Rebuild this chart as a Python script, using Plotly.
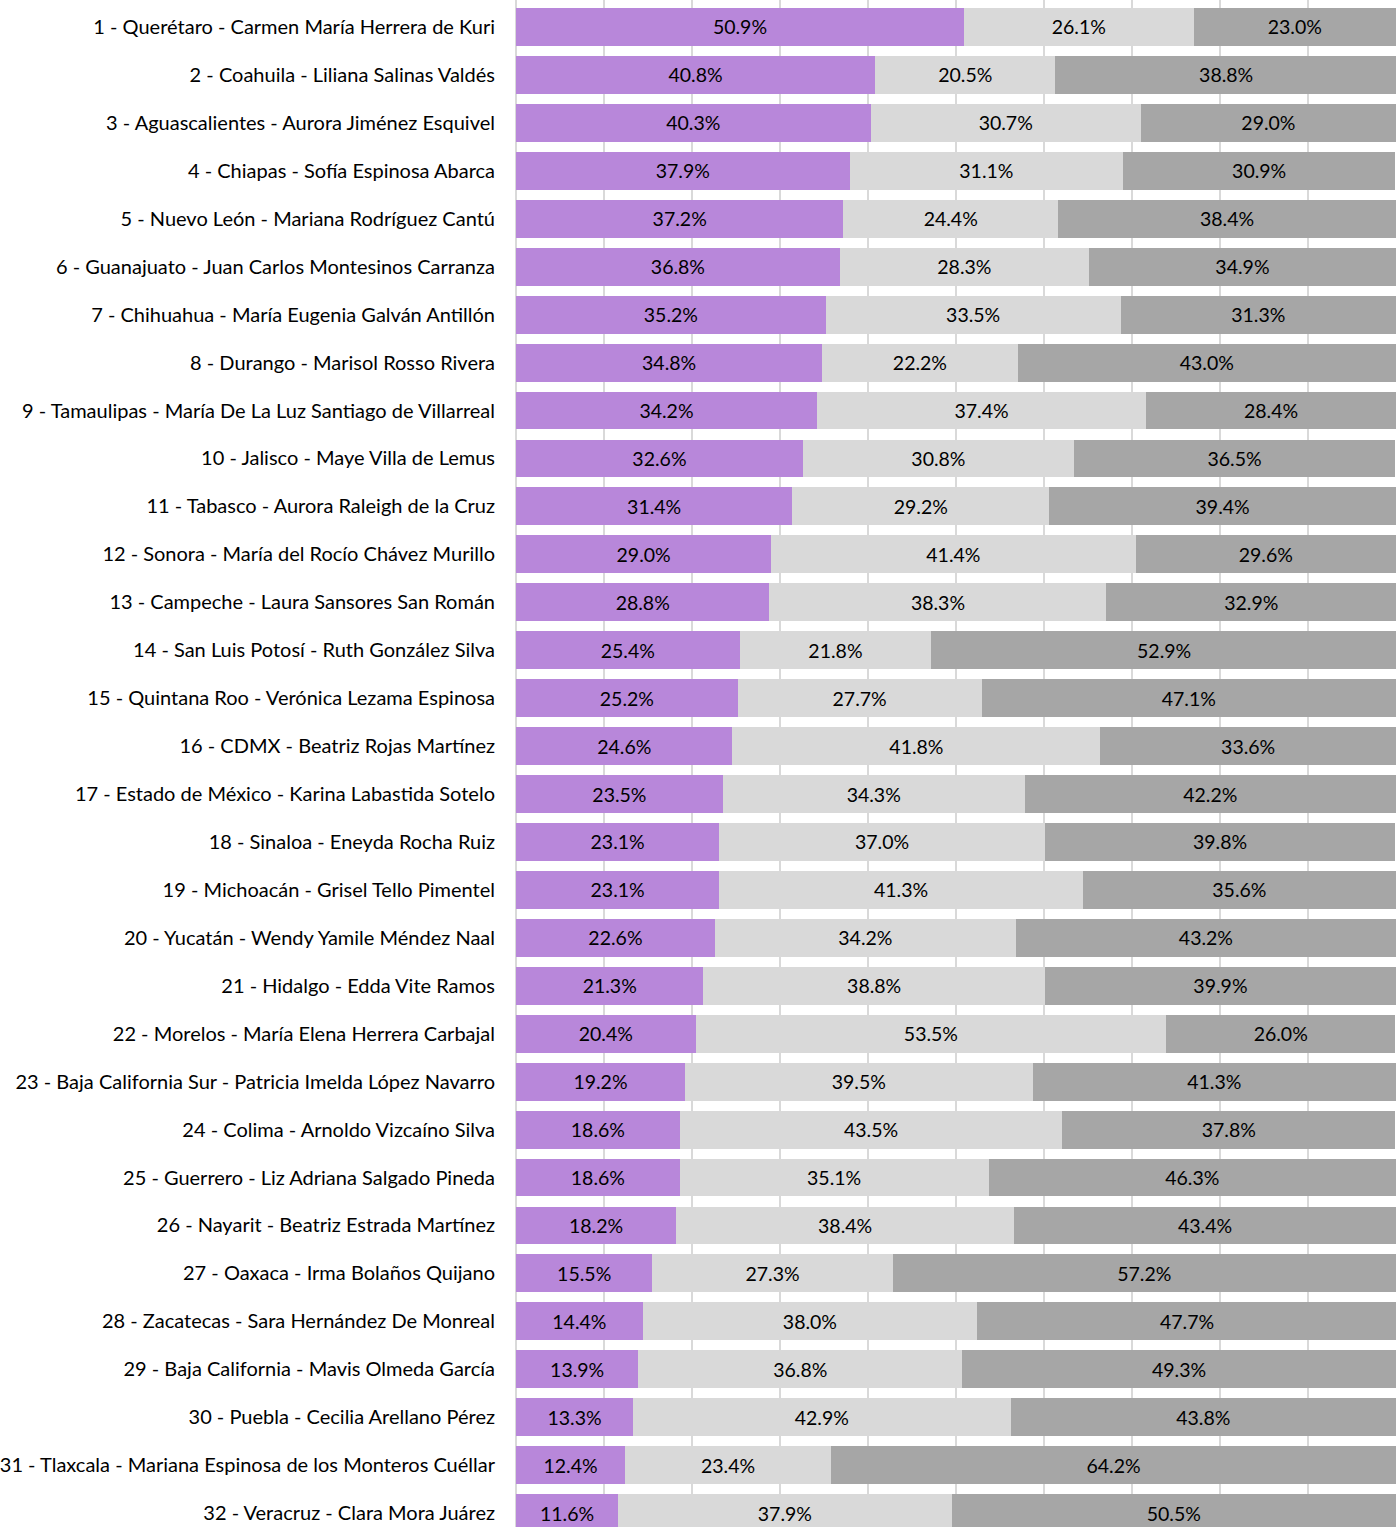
import plotly.graph_objects as go

# Candidate labels (rank - state - name), top to bottom
labels = [
    "1 - Querétaro - Carmen María Herrera de Kuri",
    "2 - Coahuila - Liliana Salinas Valdés",
    "3 - Aguascalientes - Aurora Jiménez Esquivel",
    "4 - Chiapas - Sofía Espinosa Abarca",
    "5 - Nuevo León - Mariana Rodríguez Cantú",
    "6 - Guanajuato - Juan Carlos Montesinos Carranza",
    "7 - Chihuahua - María Eugenia Galván Antillón",
    "8 - Durango - Marisol Rosso Rivera",
    "9 - Tamaulipas - María De La Luz Santiago de Villarreal",
    "10 - Jalisco - Maye Villa de Lemus",
    "11 - Tabasco - Aurora Raleigh de la Cruz",
    "12 - Sonora - María del Rocío Chávez Murillo",
    "13 - Campeche - Laura Sansores San Román",
    "14 - San Luis Potosí - Ruth González Silva",
    "15 - Quintana Roo - Verónica Lezama Espinosa",
    "16 - CDMX - Beatriz Rojas Martínez",
    "17 - Estado de México - Karina Labastida Sotelo",
    "18 - Sinaloa - Eneyda Rocha Ruiz",
    "19 - Michoacán - Grisel Tello Pimentel",
    "20 - Yucatán - Wendy Yamile Méndez Naal",
    "21 - Hidalgo - Edda Vite Ramos",
    "22 - Morelos - María Elena Herrera Carbajal",
    "23 - Baja California Sur - Patricia Imelda López Navarro",
    "24 - Colima - Arnoldo Vizcaíno Silva",
    "25 - Guerrero - Liz Adriana Salgado Pineda",
    "26 - Nayarit - Beatriz Estrada Martínez",
    "27 - Oaxaca - Irma Bolaños Quijano",
    "28 - Zacatecas - Sara Hernández De Monreal",
    "29 - Baja California - Mavis Olmeda García",
    "30 - Puebla - Cecilia Arellano Pérez",
    "31 - Tlaxcala - Mariana Espinosa de los Monteros Cuéllar",
    "32 - Veracruz - Clara Mora Juárez",
]

# Shares in percent
seg_a = [50.9, 40.8, 40.3, 37.9, 37.2, 36.8, 35.2, 34.8, 34.2, 32.6, 31.4, 29.0,
         28.8, 25.4, 25.2, 24.6, 23.5, 23.1, 23.1, 22.6, 21.3, 20.4, 19.2, 18.6,
         18.6, 18.2, 15.5, 14.4, 13.9, 13.3, 12.4, 11.6]
seg_b = [26.1, 20.5, 30.7, 31.1, 24.4, 28.3, 33.5, 22.2, 37.4, 30.8, 29.2, 41.4,
         38.3, 21.8, 27.7, 41.8, 34.3, 37.0, 41.3, 34.2, 38.8, 53.5, 39.5, 43.5,
         35.1, 38.4, 27.3, 38.0, 36.8, 42.9, 23.4, 37.9]
seg_c = [23.0, 38.8, 29.0, 30.9, 38.4, 34.9, 31.3, 43.0, 28.4, 36.5, 39.4, 29.6,
         32.9, 52.9, 47.1, 33.6, 42.2, 39.8, 35.6, 43.2, 39.9, 26.0, 41.3, 37.8,
         46.3, 43.4, 57.2, 47.7, 49.3, 43.8, 64.2, 50.5]

colors = ["#b887da", "#d9d9d9", "#a6a6a6"]
FONT = "Lato, 'Open Sans', sans-serif"

rows = list(range(len(labels)))

fig = go.Figure()
for vals, col in zip([seg_a, seg_b, seg_c], colors):
    fig.add_trace(go.Bar(
        y=rows, x=vals, orientation="h",
        marker=dict(color=col, line=dict(width=0)),
        width=0.79,
        text=[f"{v:.1f}%" for v in vals],
        textposition="inside",
        insidetextanchor="middle",
        constraintext="none",
        textangle=0,
        textfont=dict(family=FONT, size=19.5, color="#000000"),
        showlegend=False,
        hoverinfo="skip",
    ))

fig.update_layout(
    barmode="stack",
    width=1396, height=1527,
    margin=dict(l=516, r=0, t=0, b=0),
    paper_bgcolor="white", plot_bgcolor="white",
    font=dict(family=FONT, color="#000000"),
    bargap=0.2,
)
fig.update_xaxes(
    range=[0, 100], dtick=10, showticklabels=False,
    showgrid=True, gridcolor="#d9d9d9", gridwidth=1.5,
    zeroline=True, zerolinecolor="#d9d9d9", zerolinewidth=1.5,
    showline=False, ticks="", automargin=False,
)
fig.update_yaxes(
    range=[31.29, -0.563],
    tickvals=rows, ticktext=labels,
    tickfont=dict(family=FONT, size=20, color="#000000"),
    ticks="", showgrid=False, zeroline=False, showline=False,
    ticklabelstandoff=20, automargin=False,
)

fig.write_html("out.html")
